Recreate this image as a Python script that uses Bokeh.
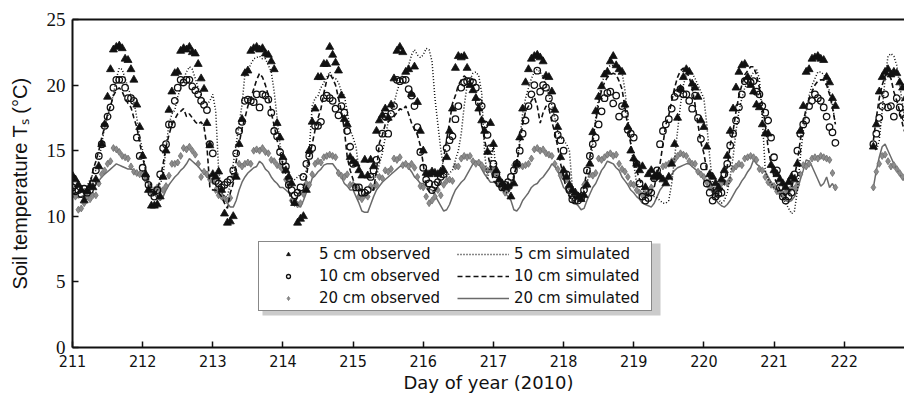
import numpy as np
from bokeh.plotting import figure
from bokeh.models import (Range1d, FixedTicker, LinearAxis, Legend, LegendItem,
                          ColumnDataSource, BoxAnnotation)
from bokeh.embed import file_html
from bokeh.resources import INLINE

# ---------------- data (hourly samples, day of year 2010) ----------------
FULL_DAYS = list(range(211, 221))          # days with 24 hourly samples
DAY_221_HOURS = list(range(0, 22))         # day 221: 00h .. 21h
DAY_222_HOURS = list(range(10, 22))        # day 222: 10h .. 21h (after data gap)

T5_OBS = [
    13.1, 12.8, 12.4, 12.0, 11.2, 11.9, 12.3, 12.2, 12.8, 13.8, 15.5, 17.0, 19.1, 21.2, 22.7, 22.9, 23.0, 22.8, 22.0, 21.9, 21.2, 20.4, 18.5, 16.8,
    14.6, 13.2, 12.0, 10.8, 10.8, 10.9, 11.5, 13.0, 15.0, 18.1, 19.5, 20.9, 21.0, 22.6, 22.8, 22.7, 22.9, 22.5, 22.4, 21.6, 20.5, 19.7, 17.1, 15.4,
    13.2, 13.0, 13.4, 12.0, 10.2, 9.5, 9.6, 10.0, 13.0, 15.5, 17.4, 20.9, 21.1, 22.6, 22.8, 22.9, 22.7, 22.8, 22.4, 22.3, 21.8, 21.2, 17.1, 16.0,
    14.5, 13.5, 13.0, 12.5, 11.0, 9.5, 9.8, 10.0, 12.0, 15.0, 17.2, 18.2, 20.6, 20.6, 21.6, 21.6, 22.9, 22.3, 21.7, 21.1, 19.2, 17.4, 17.0, 14.5,
    14.2, 14.0, 13.5, 13.1, 14.3, 13.1, 14.3, 13.8, 16.5, 17.3, 17.7, 18.2, 17.5, 18.5, 20.5, 22.6, 22.9, 22.5, 21.0, 21.2, 19.3, 21.4, 18.7, 16.5,
    15.0, 13.3, 13.2, 13.4, 13.3, 13.2, 13.4, 13.5, 14.5, 16.5, 18.2, 21.3, 22.2, 22.1, 22.2, 21.3, 20.0, 19.6, 19.0, 18.2, 17.3, 16.5, 14.9, 17.1,
    15.5, 13.5, 12.8, 12.5, 12.2, 12.3, 11.5, 12.5, 14.0, 16.0, 18.2, 20.2, 21.2, 22.0, 22.2, 22.3, 22.1, 21.8, 20.7, 20.6, 19.5, 18.1, 16.8, 14.5,
    13.5, 13.0, 12.4, 12.0, 11.8, 11.5, 11.3, 11.6, 12.4, 14.0, 16.4, 18.0, 19.1, 19.9, 20.8, 21.0, 21.8, 22.2, 21.5, 21.2, 21.0, 18.5, 16.8, 15.0,
    14.4, 14.0, 13.5, 13.8, 12.2, 13.2, 13.5, 13.0, 13.2, 13.0, 12.8, 12.5, 13.0, 14.0, 15.5, 17.5, 19.7, 20.6, 21.2, 21.0, 20.1, 19.8, 19.1, 17.3,
    16.8, 15.3, 13.2, 13.0, 12.5, 12.2, 12.8, 13.5, 14.6, 16.5, 18.2, 19.8, 21.0, 21.5, 21.6, 20.6, 20.0, 19.5, 18.5, 18.3, 17.0, 16.3, 16.3, 13.9,
    13.5, 13.2, 12.8, 12.5, 12.2, 12.6, 13.0, 12.8, 14.0, 16.5, 18.4, 21.0, 21.2, 22.0, 22.1, 22.2, 22.0, 21.9, 20.6, 20.2, 19.0, 18.4,
    None,
    15.3, 17.0, 19.5, 20.6, 21.0, 21.2, 20.8, 21.0, 20.9, 20.2, 19.8, 19.0,
]

T10_OBS = [
    12.2, 11.9, 12.0, 11.7, 12.1, 11.8, 12.0, 12.5, 13.5, 14.6, 15.5, 16.9, 17.6, 18.3, 19.8, 20.4, 20.4, 20.4, 19.8, 19.0, 19.0, 18.8, 16.0, 14.6,
    13.7, 13.0, 12.4, 11.8, 11.5, 12.0, 13.2, 15.2, 15.5, 17.0, 17.0, 18.8, 19.8, 20.4, 20.2, 20.4, 20.4, 19.9, 19.6, 19.3, 18.8, 18.5, 18.1, 15.5,
    14.8, 12.7, 12.5, 12.2, 12.4, 12.6, 12.8, 13.5, 14.8, 16.5, 17.2, 18.8, 18.9, 18.8, 18.7, 19.3, 18.3, 19.3, 19.2, 18.9, 17.9, 16.5, 16.1, 14.9,
    14.2, 13.8, 12.4, 12.0, 11.6, 11.8, 12.2, 13.0, 14.0, 14.6, 15.2, 16.9, 16.9, 17.2, 19.0, 19.2, 19.0, 18.8, 18.2, 17.7, 18.4, 17.9, 16.5, 15.3,
    14.0, 12.2, 12.2, 11.8, 11.8, 12.0, 13.0, 13.5, 14.3, 15.2, 16.3, 17.6, 16.3, 17.8, 18.4, 20.4, 20.3, 20.4, 20.4, 19.7, 19.2, 18.4, 16.8, 14.9,
    13.7, 12.8, 12.5, 12.0, 12.4, 12.6, 13.0, 13.2, 15.2, 15.8, 16.1, 17.4, 18.4, 19.8, 20.2, 20.3, 20.3, 20.2, 19.8, 18.7, 18.4, 17.0, 16.2, 15.2,
    14.0, 13.2, 12.5, 12.2, 12.4, 12.6, 13.0, 13.5, 14.0, 15.0, 16.3, 17.3, 18.4, 19.3, 20.0, 21.1, 19.5, 20.0, 19.8, 19.0, 18.4, 17.5, 16.2, 15.8,
    15.0, 13.2, 12.0, 11.3, 11.2, 11.2, 11.4, 12.0, 13.5, 14.6, 15.5, 16.0, 17.0, 18.0, 19.0, 19.4, 19.5, 18.6, 19.2, 17.6, 18.4, 17.8, 16.6, 16.3,
    16.0, 14.0, 12.5, 11.5, 11.2, 11.4, 11.8, 12.9, 13.5, 15.5, 16.5, 17.0, 17.4, 18.2, 19.1, 19.4, 19.7, 19.3, 19.3, 18.8, 18.2, 19.2, 17.5, 15.9,
    13.8, 12.5, 11.8, 11.2, 11.5, 11.7, 11.8, 13.2, 14.0, 15.4, 16.3, 17.3, 18.3, 19.3, 20.3, 20.4, 20.2, 20.3, 19.5, 19.3, 18.4, 17.9, 17.3, 16.0,
    14.5, 13.5, 12.2, 11.5, 11.2, 11.5, 11.8, 13.2, 15.0, 16.3, 17.0, 17.3, 18.4, 18.8, 19.3, 19.0, 18.8, 18.3, 17.6, 16.8, 16.4, 15.6,
    None,
    15.5, 16.3, 17.5, 18.4, 19.3, 18.3, 18.4, 17.6, 19.0, 18.3, 17.8, 17.5,
]

T20_OBS = [
    12.0, 11.5, 10.5, 10.6, 11.0, 11.5, 11.3, 11.6, 11.6, 12.5, 13.2, 13.5, 14.0, 14.2, 15.2, 15.1, 14.9, 14.6, 14.5, 14.4, 13.8, 13.4, 13.3, 13.2,
    13.2, 12.8, 12.0, 11.8, 12.0, 12.2, 12.0, 12.0, 12.3, 13.1, 14.0, 14.0, 14.1, 14.6, 15.2, 15.1, 15.3, 15.0, 14.7, 14.0, 13.0, 13.4, 13.2, 12.8,
    12.7, 12.0, 11.6, 11.5, 11.3, 11.2, 11.4, 13.0, 13.2, 14.0, 13.8, 14.0, 14.1, 14.0, 15.0, 15.1, 15.0, 15.2, 14.9, 14.8, 14.3, 14.2, 13.9, 13.8,
    13.5, 12.8, 12.5, 11.2, 11.0, 10.9, 11.0, 11.7, 12.5, 12.4, 13.2, 14.0, 14.2, 14.1, 14.5, 14.6, 14.7, 14.6, 14.5, 13.3, 13.1, 13.0, 13.2, 12.4,
    12.4, 12.2, 11.5, 11.3, 11.6, 11.5, 12.3, 12.2, 12.4, 13.0, 12.9, 13.5, 13.4, 13.6, 14.4, 14.3, 14.5, 13.9, 14.0, 13.8, 14.0, 13.7, 13.0, 12.3,
    12.2, 11.5, 11.0, 11.2, 11.5, 12.0, 11.6, 12.4, 12.7, 12.8, 12.7, 13.8, 13.8, 14.4, 14.6, 14.5, 14.6, 14.2, 14.0, 14.1, 13.9, 13.6, 13.5, 13.6,
    13.4, 13.2, 12.7, 12.2, 11.8, 12.0, 12.3, 13.9, 13.8, 13.9, 13.8, 13.9, 14.0, 14.4, 15.1, 15.2, 15.0, 15.1, 14.8, 14.7, 14.6, 14.0, 13.6, 13.1,
    13.0, 12.8, 12.2, 11.8, 11.5, 11.6, 11.5, 12.4, 12.3, 13.2, 13.1, 13.3, 14.4, 14.3, 14.5, 14.7, 14.8, 14.6, 14.7, 14.0, 13.6, 13.4, 13.0, 12.5,
    12.4, 12.0, 11.8, 11.6, 11.7, 11.8, 12.2, 12.9, 13.0, 13.1, 13.8, 13.9, 14.0, 14.2, 14.3, 14.6, 14.8, 14.7, 14.6, 14.2, 14.0, 14.0, 13.4, 13.2,
    13.0, 12.6, 12.2, 12.0, 11.8, 11.9, 12.5, 12.6, 12.5, 12.8, 13.6, 13.8, 14.0, 13.9, 14.4, 14.5, 14.6, 14.5, 14.3, 13.6, 13.5, 13.0, 12.6, 12.4,
    12.3, 11.9, 11.8, 11.7, 11.8, 11.9, 12.2, 12.1, 12.4, 13.2, 13.9, 13.8, 14.0, 14.4, 14.5, 14.4, 14.6, 14.5, 14.4, 14.3, 13.3, 12.2,
    None,
    12.2, 13.4, 14.0, 14.6, 14.7, 14.2, 13.8, 13.9, 13.6, 13.3, 13.0, 12.8,
]

T5_SIM = [
    12.5, 12.3, 12.2, 12.0, 12.0, 12.3, 12.8, 13.2, 13.5, 14.2, 15.5, 16.8, 17.6, 18.4, 19.3, 20.5, 21.3, 21.2, 20.5, 19.8, 19.2, 18.8, 17.5, 16.0,
    15.0, 13.5, 12.2, 11.9, 11.8, 12.0, 12.5, 13.0, 15.3, 17.0, 17.8, 18.1, 19.1, 19.8, 20.5, 21.0, 21.4, 21.2, 20.5, 19.8, 19.2, 18.8, 18.5, 18.8,
    19.3, 18.0, 13.5, 12.0, 11.5, 11.5, 12.5, 14.0, 15.5, 17.0, 18.5, 20.9, 21.1, 21.6, 22.0, 22.1, 22.2, 22.0, 22.0, 21.5, 21.0, 19.5, 17.5, 15.5,
    14.0, 13.2, 12.8, 12.6, 12.8, 13.0, 13.2, 13.0, 13.5, 15.0, 18.4, 19.0, 19.2, 19.8, 20.2, 20.6, 21.0, 20.6, 20.5, 20.2, 19.5, 19.2, 18.0, 16.6,
    16.0, 15.3, 13.5, 13.0, 13.0, 12.9, 13.0, 13.0, 13.0, 14.0, 14.8, 16.0, 17.2, 18.0, 18.6, 19.5, 20.2, 20.8, 21.1, 21.5, 22.3, 22.7, 22.3, 22.1,
    22.3, 22.8, 22.7, 21.8, 19.0, 17.0, 15.1, 13.5, 13.0, 13.3, 13.5, 14.3, 15.0, 16.3, 18.4, 20.0, 20.4, 20.9, 21.0, 20.7, 19.4, 14.8, 12.8, 14.0,
    15.5, 13.2, 12.5, 12.0, 11.8, 11.8, 12.2, 13.2, 14.0, 15.8, 17.8, 19.0, 19.8, 20.5, 21.0, 21.2, 21.0, 20.6, 20.0, 19.2, 18.5, 17.5, 16.5, 16.0,
    15.8, 15.5, 15.0, 12.2, 11.5, 11.3, 11.5, 12.0, 12.5, 13.5, 15.5, 17.5, 19.0, 20.0, 20.8, 21.3, 21.5, 21.5, 21.4, 21.2, 21.0, 19.6, 17.5, 15.5,
    14.0, 12.5, 12.3, 12.0, 11.8, 11.8, 11.6, 11.5, 11.4, 11.2, 11.0, 11.0, 11.2, 12.5, 14.5, 16.5, 18.5, 20.0, 20.8, 21.0, 20.9, 20.5, 20.0, 19.5,
    19.0, 17.0, 14.5, 12.5, 11.8, 11.3, 11.0, 11.2, 11.8, 13.0, 14.5, 16.5, 18.0, 19.0, 19.8, 20.2, 20.6, 21.0, 21.2, 20.5, 17.5, 13.5, 12.8, 12.5,
    12.2, 12.0, 11.7, 11.4, 11.0, 10.6, 10.2, 10.4, 12.0, 14.5, 16.5, 18.0, 19.2, 20.0, 20.5, 21.0, 21.0, 20.8, 20.4, 19.5, 18.5, 17.0,
    None,
    15.3, 15.0, 15.8, 18.0, 20.5, 22.2, 22.4, 22.2, 21.5, 20.0, 18.5, 17.0,
]

T10_SIM = [
    11.7, 11.8, 11.8, 11.9, 12.0, 12.2, 12.4, 13.5, 14.2, 15.0, 16.0, 16.8, 17.8, 18.4, 19.2, 19.6, 19.8, 19.5, 19.0, 18.6, 18.3, 17.5, 16.8, 15.6,
    14.5, 13.5, 12.8, 12.3, 11.5, 12.0, 12.8, 14.0, 15.3, 16.2, 17.0, 17.4, 17.8, 18.0, 18.2, 17.6, 17.8, 17.5, 17.2, 17.0, 17.2, 16.8, 15.3, 12.2,
    12.0, 12.0, 11.8, 11.5, 11.0, 10.6, 11.8, 12.5, 14.2, 15.5, 16.7, 17.5, 18.4, 19.0, 19.7, 20.4, 20.9, 20.6, 20.0, 19.2, 17.9, 16.9, 15.8, 14.9,
    13.9, 13.2, 12.0, 11.0, 11.0, 11.5, 12.0, 12.2, 13.0, 14.5, 15.5, 16.6, 17.5, 18.2, 19.4, 20.4, 20.9, 20.5, 20.0, 19.0, 18.0, 16.6, 14.5, 13.5,
    12.8, 12.2, 12.2, 11.9, 11.7, 11.8, 12.0, 12.0, 13.5, 15.6, 16.2, 17.0, 17.2, 17.4, 17.6, 17.9, 18.2, 18.1, 18.4, 17.8, 17.1, 16.6, 16.2, 15.4,
    14.0, 12.2, 11.9, 11.9, 12.0, 12.2, 13.0, 14.5, 15.8, 17.2, 18.6, 19.2, 20.0, 20.4, 20.7, 20.5, 20.2, 19.8, 19.2, 18.3, 17.0, 15.8, 14.8, 13.8,
    12.7, 12.5, 12.4, 12.5, 12.3, 12.0, 12.0, 13.0, 14.0, 15.5, 17.0, 18.0, 18.4, 18.8, 19.1, 18.4, 17.1, 17.9, 18.4, 18.2, 17.2, 16.4, 15.3, 14.0,
    13.0, 12.0, 11.5, 11.2, 11.2, 11.6, 11.8, 12.2, 13.5, 14.5, 16.0, 17.2, 18.6, 19.6, 20.2, 20.6, 20.8, 20.9, 20.8, 20.3, 19.7, 18.3, 16.8, 15.5,
    14.5, 13.5, 12.8, 12.3, 11.8, 11.5, 11.8, 12.2, 13.2, 14.0, 15.5, 17.0, 17.7, 18.8, 19.8, 20.6, 21.1, 21.3, 21.0, 20.6, 19.8, 18.5, 17.0, 15.6,
    14.8, 13.5, 12.8, 12.2, 11.5, 11.6, 12.0, 12.5, 13.8, 15.4, 16.5, 18.0, 19.2, 20.0, 20.8, 21.1, 21.4, 21.4, 20.8, 19.8, 18.5, 17.0, 15.2, 14.0,
    13.0, 12.5, 12.0, 11.8, 11.5, 11.8, 12.2, 13.0, 14.2, 15.8, 17.2, 18.2, 19.0, 19.5, 20.0, 20.3, 20.4, 20.4, 20.0, 19.3, 18.3, 17.0,
    None,
    15.8, 17.5, 19.0, 20.0, 20.7, 20.9, 20.5, 19.5, 18.8, 18.0, 17.0, 16.2,
]

T20_SIM = [
    11.5, 11.5, 11.4, 11.5, 11.6, 11.8, 12.0, 12.2, 12.5, 12.7, 13.0, 13.2, 13.4, 13.6, 13.8, 14.0, 13.9, 13.8, 13.7, 13.6, 13.6, 13.5, 13.3, 13.2,
    13.2, 12.8, 12.5, 12.0, 11.7, 11.4, 11.2, 11.5, 12.0, 12.4, 12.7, 13.0, 13.2, 13.5, 13.7, 14.0, 14.4, 14.2, 14.0, 13.8, 13.5, 13.3, 13.0, 12.8,
    12.8, 12.4, 12.2, 11.8, 11.5, 11.0, 10.7, 10.7, 11.2, 12.0, 12.6, 13.0, 13.3, 13.5, 13.7, 13.8, 14.2, 14.0, 13.6, 13.4, 13.0, 12.7, 12.5, 12.2,
    12.2, 12.0, 11.8, 11.5, 11.0, 10.8, 10.7, 11.2, 11.8, 12.2, 12.9, 13.1, 13.4, 13.6, 13.9, 14.0, 14.0, 14.0, 13.7, 13.4, 13.0, 12.5, 12.3, 12.0,
    12.0, 11.5, 11.0, 10.4, 10.3, 10.3, 10.9, 11.5, 12.0, 12.3, 12.6, 12.8, 13.0, 13.2, 13.4, 13.6, 13.8, 13.9, 14.0, 13.7, 13.4, 13.0, 12.8, 12.5,
    12.5, 12.3, 12.1, 12.0, 11.6, 11.2, 10.8, 10.4, 10.5, 10.9, 11.5, 12.0, 12.3, 12.6, 12.8, 13.2, 13.6, 14.0, 14.2, 14.0, 13.6, 13.2, 12.9, 12.6,
    12.6, 12.5, 12.2, 12.0, 11.8, 11.5, 11.2, 10.5, 10.4, 10.7, 11.2, 11.5, 11.8, 12.2, 12.4, 12.5, 12.8, 13.0, 13.3, 13.6, 14.0, 13.8, 13.5, 12.8,
    12.2, 12.0, 11.6, 11.3, 11.0, 10.8, 10.5, 10.6, 11.2, 11.7, 12.2, 12.5, 13.0, 13.5, 13.8, 14.2, 14.1, 14.0, 13.7, 13.5, 13.0, 12.7, 12.4, 12.0,
    11.8, 11.5, 11.3, 11.0, 10.9, 10.8, 10.7, 11.0, 11.5, 12.0, 12.3, 12.6, 12.9, 13.2, 13.5, 13.7, 13.8, 13.9, 14.0, 14.0, 13.8, 13.6, 13.4, 13.1,
    12.8, 12.5, 12.2, 11.8, 11.3, 11.0, 10.8, 10.7, 10.9, 11.2, 11.6, 12.0, 12.3, 12.7, 13.0, 13.4, 13.7, 14.3, 14.0, 13.8, 13.5, 13.4, 13.0, 12.6,
    12.2, 12.0, 11.7, 11.4, 11.2, 11.1, 11.2, 11.5, 12.0, 12.8, 13.5, 14.3, 14.2, 13.8, 13.3, 12.8, 12.3, 12.5, 13.0, 12.2, 12.5, 12.0,
    None,
    12.2, 13.5, 14.5, 15.3, 15.5, 15.0, 14.5, 14.0, 13.6, 13.2, 12.9, 12.7,
]

X_TICKS = list(range(211, 223))
Y_TICKS = [0, 5, 10, 15, 20, 25]

# ---------------- time axis built from the sampling scheme ----------------
times = [d + h / 24.0 for d in FULL_DAYS for h in range(24)]
times += [221 + h / 24.0 for h in DAY_221_HOURS]
times += [float("nan")]
times += [222 + h / 24.0 for h in DAY_222_HOURS]

src = ColumnDataSource(data=dict(
    t=np.array(times, dtype=float),
    t5o=np.array(T5_OBS, dtype=float),
    t10o=np.array(T10_OBS, dtype=float),
    t20o=np.array(T20_OBS, dtype=float),
    t5s=np.array(T5_SIM, dtype=float),
    t10s=np.array(T10_SIM, dtype=float),
    t20s=np.array(T20_SIM, dtype=float),
))

p = figure(width=904, height=398, x_range=Range1d(211, 222.86), y_range=Range1d(0, 25),
           output_backend="svg", toolbar_location=None,
           min_border_left=72, min_border_right=0, min_border_top=19, min_border_bottom=51)
p.outline_line_color = None
p.xgrid.visible = False
p.ygrid.visible = False
p.background_fill_color = "white"
p.border_fill_color = "white"

# renderers
r20s = p.line("t", "t20s", source=src, line_color="#6a6a6a", line_width=1.5)
r20o = p.scatter("t", "t20o", source=src, marker="diamond", size=7,
                 fill_color="#8c8c8c", line_color="#6e6e6e", line_width=0.8)
r10o = p.scatter("t", "t10o", source=src, marker="circle", size=6.5,
                 fill_color=None, line_color="#111111", line_width=1.3)
r5o = p.scatter("t", "t5o", source=src, marker="triangle", size=8,
                fill_color="#111111", line_color="#111111", line_width=0.8)
r5s = p.line("t", "t5s", source=src, line_color="#111111", line_width=1.5, line_dash="1 2")
r10s = p.line("t", "t10s", source=src, line_color="#111111", line_width=1.6, line_dash="5 3")

# axes
xa = p.below[0]
ya = p.left[0]
xa.ticker = FixedTicker(ticks=X_TICKS)
ya.ticker = FixedTicker(ticks=Y_TICKS)
for ax in (xa, ya):
    ax.axis_line_width = 2
    ax.axis_line_color = "#111111"
    ax.major_tick_in = 6
    ax.major_tick_out = 0
    ax.major_tick_line_width = 1.5
    ax.major_tick_line_color = "#111111"
    ax.minor_tick_line_color = None
    ax.major_label_text_color = "#111111"
    ax.axis_label_text_color = "#111111"
    ax.axis_label_text_font_style = "normal"

xa.major_label_text_font = "DejaVu Sans Condensed, DejaVu Sans, sans-serif"
xa.major_label_text_font_size = "16px"
xa.major_label_standoff = 7
xa.axis_label = "Day of year (2010)"
xa.axis_label_text_font = "DejaVu Sans"
xa.axis_label_text_font_size = "18px"
xa.axis_label_standoff = 2

ya.major_label_text_font = "Liberation Serif"
ya.major_label_text_font_size = "19px"
ya.major_label_standoff = 7
ya.axis_label = "Soil temperature T\u209b (\u00b0C)"
ya.axis_label_text_font = "Liberation Sans"
ya.axis_label_text_font_size = "20px"
ya.axis_label_standoff = 13

top = LinearAxis(ticker=FixedTicker(ticks=[]), axis_line_width=2, axis_line_color="#111111",
                 major_tick_line_color=None, minor_tick_line_color=None,
                 major_label_text_font_size="0px")
p.add_layout(top, "above")

# legend with soft drop shadow
shadow = BoxAnnotation(left=190, right=588, bottom=32, top=104,
                       left_units="screen", right_units="screen",
                       bottom_units="screen", top_units="screen",
                       fill_color="#a8a8a8", fill_alpha=0.6, line_color=None)
p.add_layout(shadow)

legend = Legend(items=[
    LegendItem(label="5 cm observed", renderers=[r5o]),
    LegendItem(label="10 cm observed", renderers=[r10o]),
    LegendItem(label="20 cm observed", renderers=[r20o]),
    LegendItem(label="5 cm simulated", renderers=[r5s]),
    LegendItem(label="10 cm simulated", renderers=[r10s]),
    LegendItem(label="20 cm simulated", renderers=[r20s]),
], location=(186, 36), ncols=2)
legend.label_text_font = "DejaVu Sans"
legend.label_text_font_size = "15px"
legend.label_text_color = "#111111"
legend.glyph_width = 52
legend.glyph_height = 10
legend.label_standoff = 5
legend.label_width = 134
legend.padding = 3
legend.spacing = 4
legend.margin = 0
legend.border_line_color = "#111111"
legend.border_line_width = 1.2
legend.background_fill_color = "white"
legend.background_fill_alpha = 1.0
p.add_layout(legend)

open("out.html", "w").write(file_html(p, INLINE))
